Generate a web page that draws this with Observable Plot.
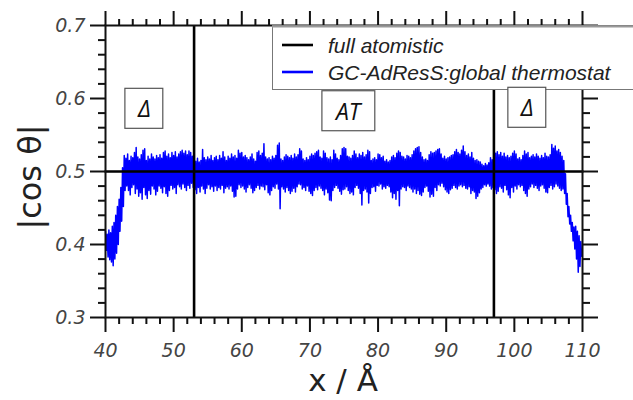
<!DOCTYPE html>
<html><head><meta charset="utf-8">
<script src="https://cdn.jsdelivr.net/npm/d3@7"></script>
<script src="https://cdn.jsdelivr.net/npm/@observablehq/plot@0.6"></script>
<style>body{margin:0;background:#fff;} #chart{width:633px;height:400px;}</style>
</head><body><div id="chart"></div>
<script>
// GC-AdResS profile: upper / lower envelope of the noisy |cos θ| curve, sampled every 0.25 Å from 40 Å
const binStart = 40.0;
const binWidth = 0.25;
const gcUpper = [
.418,.414,.420,.416, .425,.430,.440,.452, .462,.478,.505,.522, .518,.524,.515,.521,
.519,.526,.533,.520, .517,.523,.529,.531, .515,.521,.517,.524, .520,.517,.522,.519,
.523,.518,.526,.528, .521,.524,.519,.526, .522,.527,.520,.524, .527,.529,.525,.528,
.523,.528,.526,.521, .516,.514,.518,.513, .515,.530,.519,.516, .520,.517,.522,.515,
.519,.521,.516,.522, .518,.527,.520,.515, .521,.518,.524,.520, .522,.518,.529,.525,
.526,.520,.522,.519, .516,.520,.524,.517, .514,.526,.528,.522, .525,.538,.520,.517,
.519,.516,.521,.518, .522,.536,.539,.517, .515,.520,.523,.521, .519,.522,.518,.524,
.520,.523,.531,.528, .517,.515,.519,.516, .521,.524,.522,.525, .527,.529,.520,.518,
.528,.525,.519,.517, .520,.516,.529,.524, .518,.516,.522,.531, .533,.531,.521,.520,
.518,.522,.528,.524, .519,.524,.522,.526, .520,.523,.529,.527, .515,.517,.519,.516,
.524,.523,.519,.521, .514,.516,.513,.515, .520,.522,.519,.525, .528,.526,.521,.520,
.517,.522,.521,.519, .523,.528,.531,.533, .534,.526,.520,.516, .517,.515,.523,.527,
.525,.526,.528,.530, .531,.524,.518,.521, .517,.519,.520,.522, .523,.527,.530,.526,
.524,.529,.535,.527, .522,.524,.520,.526, .518,.515,.516,.514, .513,.510,.508,.511,
.509,.512,.519,.516, .522,.525,.527,.523, .526,.521,.525,.520, .522,.519,.521,.525,
.528,.524,.517,.519, .516,.522,.528,.524, .526,.519,.521,.523, .520,.524,.521,.518,
.522,.519,.525,.521, .520,.523,.537,.532, .535,.528,.530,.526, .521,.515,.497,.470,
.452,.440,.430,.424, .425,.418,.412,.404
];
const gcLower = [
.392,.383,.379,.376, .371,.380,.388,.400, .418,.432,.452,.474, .480,.474,.468,.478,
.482,.470,.476,.466, .471,.462,.478,.468, .463,.474,.469,.480, .476,.468,.473,.480,
.477,.471,.479,.470, .466,.474,.481,.476, .478,.470,.482,.479, .476,.483,.478,.474,
.481,.477,.484,.478, .475,.470,.478,.472, .480,.476,.470,.477, .482,.476,.479,.473,
.480,.474,.478,.476, .481,.471,.477,.479, .476,.480,.473,.465, .466,.476,.482,.478,
.480,.476,.472,.478, .482,.477,.471,.474, .478,.481,.476,.480, .479,.475,.482,.471,
.468,.474,.479,.477, .483,.476,.449,.479, .476,.472,.478,.474, .470,.473,.477,.472,
.479,.483,.482,.476, .478,.474,.480,.473, .470,.467,.474,.478, .475,.480,.477,.474,
.468,.476,.471,.461, .460,.474,.478,.481, .477,.473,.469,.475, .476,.479,.474,.470,
.472,.468,.478,.481, .477,.470,.454,.474, .476,.472,.457,.470, .478,.479,.473,.481,
.480,.483,.476,.479, .477,.481,.479,.472, .464,.470,.462,.474, .453,.476,.479,.478,
.474,.480,.478,.476, .472,.476,.470,.474, .469,.467,.472,.478, .480,.473,.465,.469,
.466,.478,.474,.482, .480,.484,.479,.475, .472,.470,.475,.477, .481,.478,.476,.480,
.482,.479,.481,.477, .476,.479,.470,.474, .472,.463,.466,.471, .476,.478,.482,.480,
.483,.480,.476,.478, .475,.470,.473,.479, .477,.472,.481,.475, .468,.464,.478,.472,
.480,.476,.482,.479, .481,.474,.470,.466, .476,.479,.483,.478, .481,.477,.474,.480,
.482,.477,.472,.471, .478,.481,.476,.479, .483,.480,.477,.474, .476,.470,.455,.438,
.428,.418,.405,.394, .380,.362,.370,.384
];
const fullAtomisticX = [40, 110];
const fullAtomisticY = [0.5, 0.5];
const regionBounds = [53, 97];
const regionLabels = ["Δ", "AT", "Δ"];
const regionLabelX = [45.7, 75.6, 101.9];
const regionLabelY = [0.5843, 0.581, 0.5857];
const xTicks = [40, 50, 60, 70, 80, 90, 100, 110];
const xTickLabels = ["40", "50", "60", "70", "80", "90", "100", "110"];
const yTicks = [0.3, 0.4, 0.5, 0.6, 0.7];
const yTickLabels = ["0.3", "0.4", "0.5", "0.6", "0.7"];
const legendLabels = ["full atomistic", "GC-AdResS:global thermostat"];
const legendColors = ["#000000", "#0000ff"];
const xTitle = "x / Å";
const yTitle = "|cos θ|";

// build tables
const bandPts = [];
gcUpper.forEach((u, i) => {
  const x = binStart + i * binWidth;
  bandPts.push({x, y: u});
  bandPts.push({x: x + binWidth / 2, y: gcLower[i]});
});
const faPts = fullAtomisticX.map((x, i) => ({x, y: fullAtomisticY[i]}));
const regions = regionLabels.map((t, i) => ({t, x: regionLabelX[i], y: regionLabelY[i]}));
const xMinor = d3.range(40, 110.01, 2).filter(v => !xTicks.includes(v));
const yMinor = d3.range(0, 21).map(i => 0.3 + i * 0.02).filter(v => !yTicks.some(t => Math.abs(t - v) < 1e-9));
const xFmt = d => xTickLabels[xTicks.indexOf(d)];
const yFmt = d => yTickLabels[yTicks.findIndex(t => Math.abs(t - d) < 1e-9)];

const TICKFONT = "'DejaVu Sans', sans-serif";
const LABFONT = "'Open Sans', 'DejaVu Sans', sans-serif";
const LEGFONT = "'Liberation Sans', 'Open Sans', sans-serif";
const INK = "#111";

const plot = Plot.plot({
  width: 633, height: 400,
  marginLeft: 105, marginRight: 51, marginTop: 25, marginBottom: 83,
  style: {fontFamily: TICKFONT, background: "#fff", overflow: "visible"},
  x: {domain: [40, 110]},
  y: {domain: [0.3, 0.7]},
  marks: [
    Plot.line(bandPts, {x: "x", y: "y", stroke: legendColors[1], strokeWidth: 1.5}),
    Plot.line(faPts, {x: "x", y: "y", stroke: legendColors[0], strokeWidth: 2.6}),
    Plot.ruleX(regionBounds, {stroke: "#000", strokeWidth: 2.6}),
    Plot.frame({stroke: INK, strokeWidth: 2}),
    // major axes
    Plot.axisY(yTicks, {anchor: "left", tickSize: 15, tickPadding: 5, tickFormat: yFmt, stroke: INK, strokeWidth: 2, fill: "#444", fontSize: 19, fontStyle: "italic", label: null}),
    Plot.axisY(yTicks, {anchor: "right", tickSize: 15, stroke: INK, strokeWidth: 2, fill: "none", label: null}),
    Plot.axisX(xTicks, {anchor: "bottom", tickSize: 15, tickPadding: 11, tickFormat: xFmt, stroke: INK, strokeWidth: 2, fill: "#444", fontSize: 19, fontStyle: "italic", label: null}),
    Plot.axisX(xTicks, {anchor: "top", tickSize: 15, stroke: INK, strokeWidth: 2, fill: "none", label: null}),
    // minor ticks
    Plot.axisY(yMinor, {anchor: "left", tickSize: 7, stroke: INK, strokeWidth: 2, fill: "none", label: null}),
    Plot.axisY(yMinor, {anchor: "right", tickSize: 7, stroke: INK, strokeWidth: 2, fill: "none", label: null}),
    Plot.axisX(xMinor, {anchor: "bottom", tickSize: 7, stroke: INK, strokeWidth: 2, fill: "none", label: null}),
    Plot.axisX(xMinor, {anchor: "top", tickSize: 7, stroke: INK, strokeWidth: 2, fill: "none", label: null}),
    // region labels
    Plot.text(regions, {x: "x", y: "y", text: "t", fontSize: 23, fontStyle: "italic", fontFamily: LABFONT, fill: "#111"})
  ]
});
document.getElementById("chart").appendChild(plot);

const svg = d3.select(plot);

// axis titles
svg.append("text").attr("x", 343).attr("y", 391).attr("text-anchor", "middle")
  .attr("font-family", TICKFONT).attr("font-size", 31).attr("fill", "#222").text(xTitle);
svg.append("text").attr("transform", "translate(30,177) rotate(-90)").attr("text-anchor", "middle")
  .attr("dominant-baseline", "central")
  .attr("font-family", TICKFONT).attr("font-size", 32).attr("fill", "#222").text(yTitle);

// legend (inside the svg, top right)
const lg = svg.append("g").attr("class", "legend");
lg.append("rect").attr("x", 272.5).attr("y", 25.5).attr("width", 362).attr("height", 64)
  .attr("fill", "#fff").attr("stroke", "#777").attr("stroke-width", 1);
lg.append("line").attr("x1", 272).attr("x2", 634).attr("y1", 26.5).attr("y2", 26.5).attr("stroke", "#999").attr("stroke-width", 2);
legendLabels.forEach((lab, i) => {
  const cy = 45 + i * 27;
  lg.append("line").attr("x1", 282).attr("x2", 313).attr("y1", cy).attr("y2", cy)
    .attr("stroke", legendColors[i]).attr("stroke-width", 2.6);
  lg.append("text").attr("x", 328).attr("y", cy + 8).attr("text-anchor", "start").text(lab)
    .attr("font-family", LEGFONT).attr("font-size", 21).attr("font-style", "italic").attr("fill", "#222");
});

// boxes around region labels, drawn on top of the legend
const labelTexts = svg.selectAll("text").filter(function() {
  return regionLabels.includes(this.textContent) && !this.closest(".legend");
});
const labelGroup = labelTexts.size() ? labelTexts.node().parentNode : null;
if (labelGroup) plot.appendChild(labelGroup);
labelTexts.each(function() {
  const b = this.getBBox();
  const tr = this.getAttribute("transform");
  const r = document.createElementNS("http://www.w3.org/2000/svg", "rect");
  r.setAttribute("x", b.x - 12); r.setAttribute("y", b.y - 4);
  r.setAttribute("width", b.width + 24); r.setAttribute("height", b.height + 8);
  r.setAttribute("fill", "#fff"); r.setAttribute("stroke", "#555"); r.setAttribute("stroke-width", 1.2);
  if (tr) r.setAttribute("transform", tr);
  this.parentNode.insertBefore(r, this);
});
</script>
</body></html>
